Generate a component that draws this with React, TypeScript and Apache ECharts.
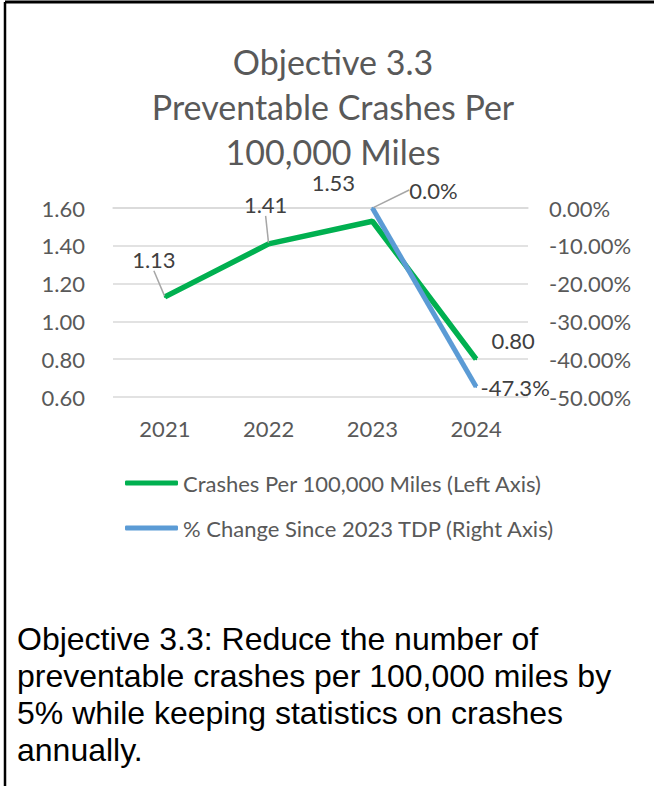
import React, { useEffect, useRef } from 'react';
import * as echarts from 'echarts';

const years = ['2021', '2022', '2023', '2024'];
const crashesPer100k = [1.13, 1.41, 1.53, 0.8];
const pctChangeSince2023: (number | null)[] = [null, null, 0.0, -47.3];
const leftAxisRange = [0.6, 1.6, 0.2];
const rightAxisRange = [-50, 0, 10];
const seriesNames = ['Crashes Per 100,000 Miles (Left Axis)', '% Change Since 2023 TDP (Right Axis)'];
const titleLines = ['Objective 3.3', 'Preventable Crashes Per', '100,000 Miles'];
const noteLines = [
  'Objective 3.3: Reduce the number of',
  'preventable crashes per 100,000 miles by',
  '5% while keeping statistics on crashes',
  'annually.',
];

// label placement relative to each point: [dx, dy, leader polyline offsets or null]
type Placement = [number, number, number[][] | null];
const greenLabelPlacement: Placement[] = [
  [-11, -37, [[-1, -2], [-7, -10], [-13, -19]]],
  [-3, -39, [[-1, -2], [-3, -12], [-5, -21]]],
  [-39, -39, null],
  [37, -19, null],
];
const blueLabelPlacement: (Placement | null)[] = [
  null,
  null,
  [61, -18, [[0, -1], [19, -21], [31, -21]]],
  [39, 1, null],
];

const GREEN = '#00B050';
const BLUE = '#5B9BD5';
const FONT = 'Lato, "Open Sans", sans-serif';

export default function App() {
  const ref = useRef<HTMLDivElement>(null);
  useEffect(() => {
    if (!ref.current) return;
    const chart = echarts.init(ref.current, null, { renderer: 'svg' });
    const layoutFor = (placements: (Placement | null)[]) => (params: any) => {
      const p = placements[params.dataIndex];
      if (!p) return {};
      const cx = params.rect.x + params.rect.width / 2;
      const cy = params.rect.y + params.rect.height / 2;
      const out: any = { x: cx + p[0], y: cy + p[1], align: 'center', verticalAlign: 'middle' };
      if (p[2]) out.labelLinePoints = p[2].map((d) => [cx + d[0], cy + d[1]]);
      return out;
    };
    const option: any = {
      animation: false,
      backgroundColor: '#ffffff',
      title: {
        text: titleLines.join('\n'),
        left: 333,
        top: 39,
        padding: 0,
        textAlign: 'center',
        textStyle: { fontFamily: FONT, fontSize: 34, lineHeight: 45, fontWeight: 'normal', color: '#595959' },
      },
      legend: {
        orient: 'vertical',
        left: 125,
        top: 472,
        padding: 0,
        itemWidth: 53,
        itemHeight: 5,
        itemGap: 23,
        icon: 'roundRect',
        data: seriesNames,
        textStyle: { fontFamily: FONT, fontSize: 22, lineHeight: 21, color: '#595959' },
      },
      grid: { left: 113, right: 126, top: 208, bottom: 389, containLabel: false },
      xAxis: {
        type: 'category',
        data: years,
        boundaryGap: true,
        axisLine: { lineStyle: { color: '#d9d9d9', width: 1.5 } },
        axisTick: { show: false },
        axisLabel: { fontFamily: FONT, fontSize: 22, color: '#595959', margin: 20 },
      },
      yAxis: [
        {
          type: 'value',
          min: leftAxisRange[0],
          max: leftAxisRange[1],
          interval: leftAxisRange[2],
          axisLine: { show: false },
          axisTick: { show: false },
          splitLine: { lineStyle: { color: '#d9d9d9', width: 1.5 } },
          axisLabel: {
            fontFamily: FONT,
            fontSize: 22,
            color: '#595959',
            margin: 28,
            formatter: (v: number) => v.toFixed(2),
          },
        },
        {
          type: 'value',
          position: 'right',
          min: rightAxisRange[0],
          max: rightAxisRange[1],
          interval: rightAxisRange[2],
          axisLine: { show: false },
          axisTick: { show: false },
          splitLine: { show: false },
          axisLabel: {
            fontFamily: FONT,
            fontSize: 22,
            color: '#595959',
            margin: 21,
            formatter: (v: number) => (Math.abs(v) < 1e-9 ? 0 : v).toFixed(2) + '%',
          },
        },
      ],
      series: [
        {
          name: seriesNames[0],
          type: 'line',
          yAxisIndex: 0,
          data: crashesPer100k.map((v, i) => ({
            value: v,
            labelLine: { show: !!greenLabelPlacement[i][2] },
          })),
          color: GREEN,
          symbol: 'circle',
          symbolSize: 2,
          lineStyle: { color: GREEN, width: 5.5 },
          itemStyle: { color: GREEN },
          label: {
            show: true,
            position: 'top',
            fontFamily: FONT,
            fontSize: 22,
            color: '#404040',
            formatter: (p: any) => Number(p.value).toFixed(2),
          },
          labelLine: { show: true, lineStyle: { color: '#a6a6a6', width: 1.5 } },
          labelLayout: layoutFor(greenLabelPlacement),
          z: 2,
        },
        {
          name: seriesNames[1],
          type: 'line',
          yAxisIndex: 1,
          data: pctChangeSince2023.map((v, i) => ({
            value: v,
            labelLine: { show: !!(blueLabelPlacement[i] && blueLabelPlacement[i]![2]) },
          })),
          color: BLUE,
          symbol: 'circle',
          symbolSize: 2,
          lineStyle: { color: BLUE, width: 5 },
          itemStyle: { color: BLUE },
          label: {
            show: true,
            position: 'top',
            fontFamily: FONT,
            fontSize: 22,
            color: '#404040',
            formatter: (p: any) => (p.value == null ? '' : Number(p.value).toFixed(1) + '%'),
          },
          labelLine: { show: true, lineStyle: { color: '#a6a6a6', width: 1.5 } },
          labelLayout: layoutFor(blueLabelPlacement),
          z: 3,
        },
      ],
      graphic: [
        { type: 'line', shape: { x1: 5, y1: 2, x2: 654, y2: 2 }, style: { stroke: '#000', lineWidth: 3 } },
        { type: 'line', shape: { x1: 5, y1: 2, x2: 5, y2: 786 }, style: { stroke: '#000', lineWidth: 2.5 } },
        {
          type: 'text',
          left: 17,
          top: 620,
          style: {
            text: noteLines.join('\n'),
            font: '32px "Liberation Sans", Arial, sans-serif',
            lineHeight: 37,
            fill: '#000000',
          },
        },
      ],
    };
    chart.setOption(option);
    return () => chart.dispose();
  }, []);
  return (
    <div
      ref={ref}
      style={{ position: 'absolute', left: 0, top: 0, width: 654, height: 786, background: '#fff' }}
    />
  );
}
